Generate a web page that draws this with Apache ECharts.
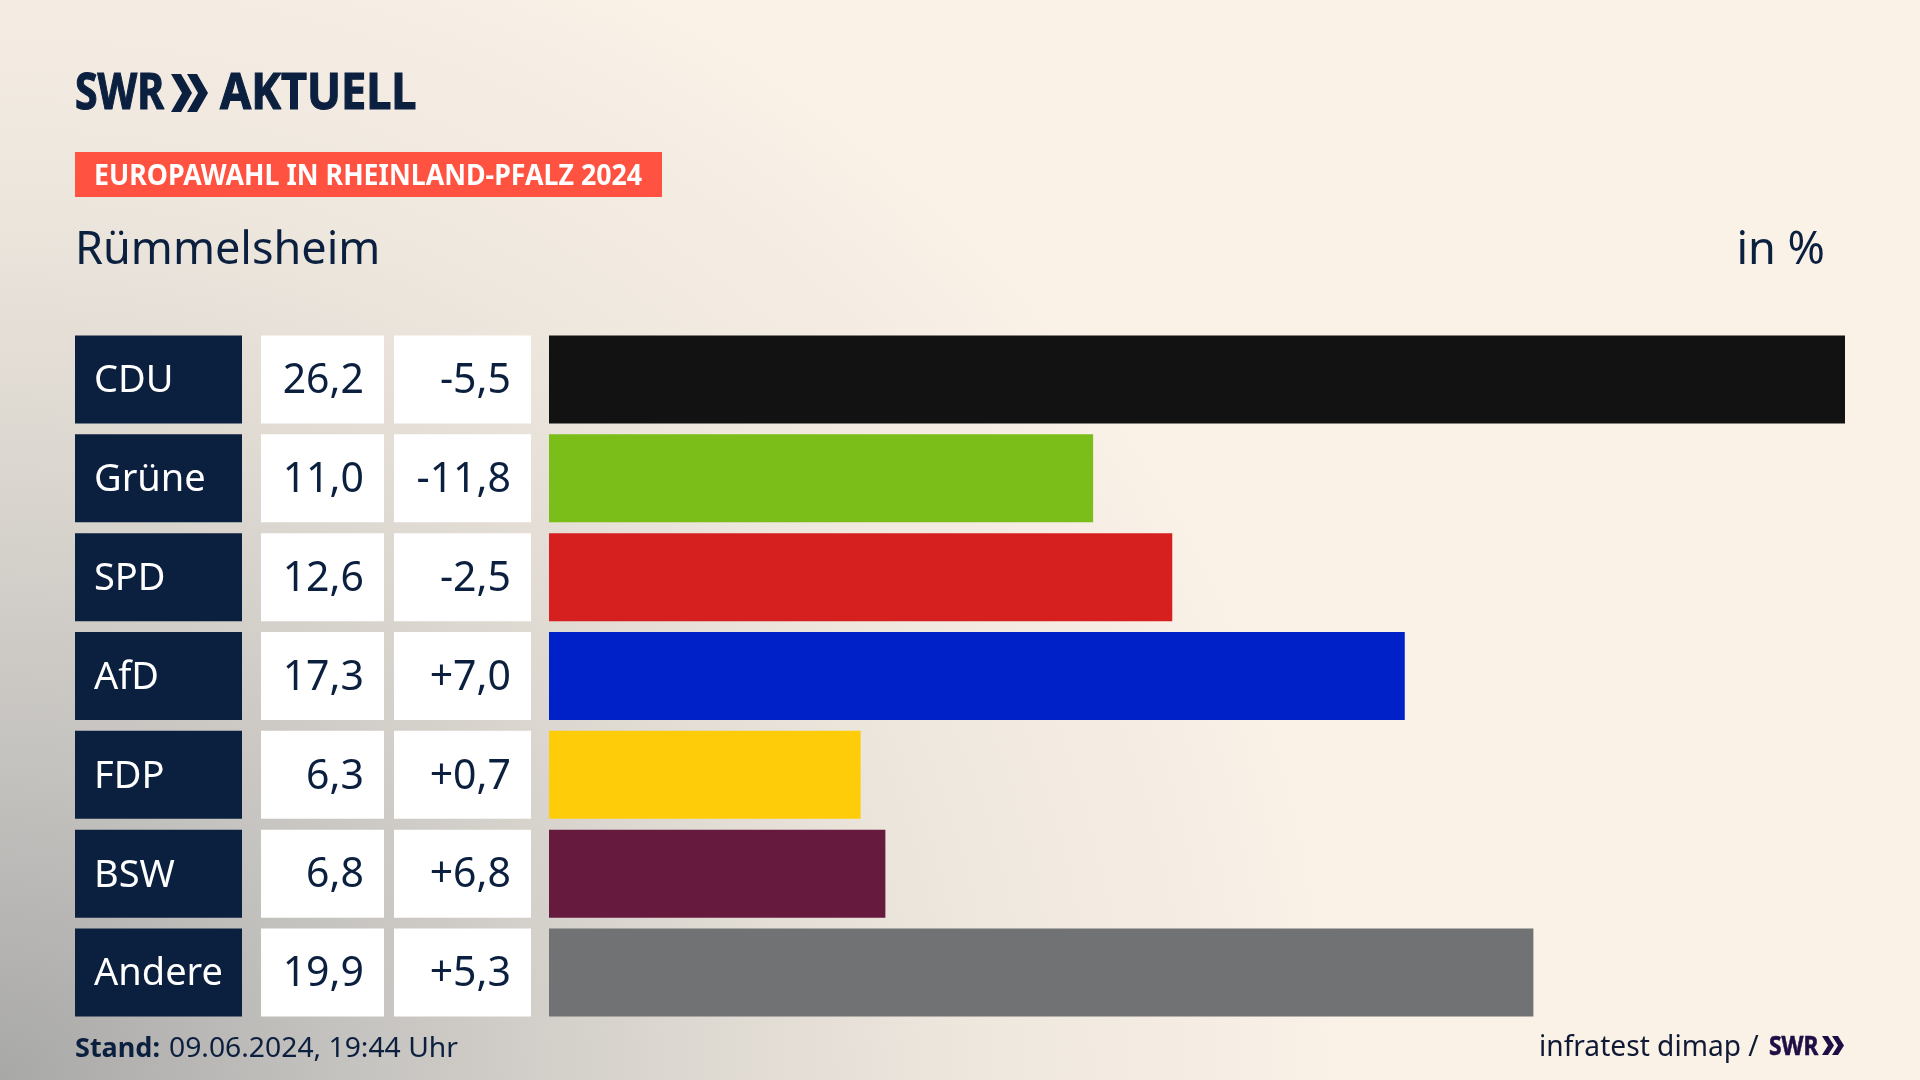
<!DOCTYPE html>
<html>
<head>
<meta charset="utf-8">
<script src="https://cdn.jsdelivr.net/npm/echarts@6/dist/echarts.min.js"></script>
<style>
  html, body { margin: 0; padding: 0; width: 1920px; height: 1080px; overflow: hidden; }
  body { background: radial-gradient(ellipse 1350px 1250px at 0 100%, #a8a8a7 0%, #c4c2bf 25%, #dcd7d0 50%, #eee7de 72%, #faf1e7 100%) #faf1e7; }
  #chart { width: 1920px; height: 1080px; }
</style>
</head>
<body>
<div id="chart"></div>
<script>
const parties = ['CDU', 'Grüne', 'SPD', 'AfD', 'FDP', 'BSW', 'Andere'];
const shares = [26.2, 11.0, 12.6, 17.3, 6.3, 6.8, 19.9];
const changes = [-5.5, -11.8, -2.5, 7.0, 0.7, 6.8, 5.3];
const partyColors = ['#121212', '#7bbd19', '#d6201f', '#0021c8', '#ffcc0a', '#661a3e', '#717273'];

const NAVY = '#0b1f3f';
const FONT = '"Noto Sans", sans-serif';

function fmt(v) {
  return v.toFixed(1).replace('.', ',');
}
function fmtChange(v) {
  return (v > 0 ? '+' : '') + fmt(v);
}

// one column of the table: full width boxes with a text in them
const columns = [
  { left: 75, width: 167, color: NAVY, textColor: '#fff', pos: 'insideLeft', dist: 19, size: 38, text: i => parties[i] },
  { left: 261, width: 123, color: '#fff', textColor: NAVY, pos: 'insideRight', dist: 20, size: 41, text: i => fmt(shares[i]) },
  { left: 394, width: 137, color: '#fff', textColor: NAVY, pos: 'insideRight', dist: 20, size: 41, text: i => fmtChange(changes[i]) }
];

const grids = [], xAxes = [], yAxes = [], series = [];
function addGrid(left, width, max) {
  const idx = grids.length;
  grids.push({ left: left, width: width, top: 330, height: 692 });
  xAxes.push({ type: 'value', gridIndex: idx, min: 0, max: max, show: false });
  yAxes.push({ type: 'category', gridIndex: idx, data: parties, inverse: true, show: false });
  return idx;
}

columns.forEach(c => {
  const idx = addGrid(c.left, c.width, 1);
  series.push({
    type: 'bar',
    xAxisIndex: idx,
    yAxisIndex: idx,
    barWidth: 88,
    silent: true,
    data: parties.map(() => 1),
    itemStyle: { color: c.color },
    label: {
      show: true,
      position: c.pos,
      distance: c.dist,
      offset: [0, 2],
      color: c.textColor,
      fontFamily: FONT,
      fontSize: c.size,
      formatter: p => c.text(p.dataIndex)
    }
  });
});

const barGrid = addGrid(549, 1296, 26.2);
series.push({
  type: 'bar',
  xAxisIndex: barGrid,
  yAxisIndex: barGrid,
  barWidth: 88,
  silent: true,
  data: shares.map((v, i) => ({ value: v, itemStyle: { color: partyColors[i] } }))
});

function chevron(x, y, w, h, t, color) {
  return {
    type: 'polygon',
    silent: true,
    shape: { points: [[x, y], [x + t, y], [x + w, y + h / 2], [x + t, y + h], [x, y + h], [x + w - t, y + h / 2]] },
    style: { fill: color }
  };
}
function text(str, x, y, size, color, opts) {
  opts = opts || {};
  return {
    type: 'text',
    silent: true,
    x: x,
    y: y,
    scaleX: opts.scaleX || 1,
    style: {
      text: str,
      fill: color,
      stroke: opts.stroke ? color : null,
      lineWidth: opts.stroke || 0,
      font: (opts.weight || 'normal') + ' ' + size + 'px ' + FONT,
      textAlign: opts.align || 'left',
      textVerticalAlign: 'middle'
    }
  };
}

const graphics = [
  text('SWR', 75, 95, 50, NAVY, { weight: 'bold', scaleX: 0.82, stroke: 1.2 }),
  chevron(171, 74, 21, 38, 10, NAVY),
  chevron(187, 74, 21, 38, 10, NAVY),
  text('AKTUELL', 220, 95, 50, NAVY, { weight: 'bold', scaleX: 0.9, stroke: 1.2 }),
  { type: 'rect', silent: true, shape: { x: 75, y: 152, width: 587, height: 45 }, style: { fill: '#ff5240' } },
  text('EUROPAWAHL IN RHEINLAND-PFALZ 2024', 94, 177, 28, '#fff', { weight: 'bold', scaleX: 0.956 }),
  text('Rümmelsheim', 75, 251, 45, NAVY),
  text('in %', 1825, 251, 45, NAVY, { align: 'right' }),
  text('Stand:', 75, 1049, 27, NAVY, { weight: 'bold' }),
  text('09.06.2024, 19:44 Uhr', 169, 1049, 28, NAVY, { scaleX: 1.01 }),
  text('infratest dimap /', 1539, 1048, 29, '#101a35', { scaleX: 0.97 }),
  text('SWR', 1769, 1047, 27, '#1d0f45', { weight: 'bold', scaleX: 0.84, stroke: 0.6 }),
  chevron(1822, 1036, 12, 19, 6, '#1d0f45'),
  chevron(1832, 1036, 12, 19, 6, '#1d0f45')
];

const chart = echarts.init(document.getElementById('chart'));
chart.setOption({
  backgroundColor: 'transparent',
  animation: false,
  grid: grids,
  xAxis: xAxes,
  yAxis: yAxes,
  series: series,
  graphic: graphics
});
</script>
</body>
</html>
